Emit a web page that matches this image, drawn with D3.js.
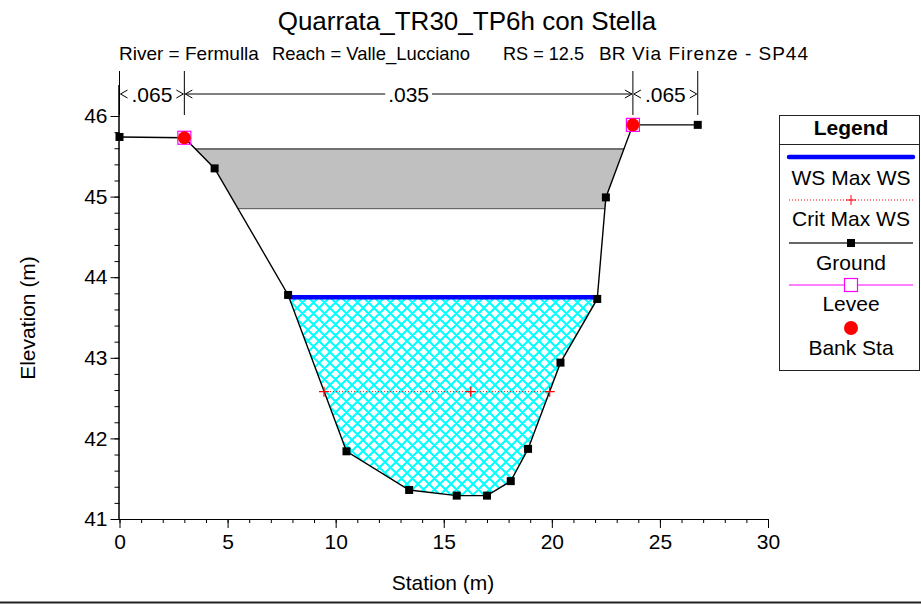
<!DOCTYPE html>
<html><head><meta charset="utf-8">
<script src="https://cdn.jsdelivr.net/npm/d3@7/dist/d3.min.js"></script>
<style>
body{margin:0;background:#fff;}
svg{display:block;font-family:"Liberation Sans",Arial,sans-serif;}
</style></head>
<body>
<svg id="chart" width="921" height="604"></svg>
<script>
// ---------- data ----------
const groundSta  = [0, 3.0, 4.4, 7.8, 10.5, 13.4, 15.6, 17.0, 18.1, 18.9, 20.4, 22.1, 22.5, 23.75, 26.75];
const groundElev = [45.74, 45.73, 45.35, 43.78, 41.84, 41.36, 41.29, 41.29, 41.47, 41.87, 42.94, 43.73, 44.99, 45.89, 45.89];
const wsElev = 43.75;
const wsSta = [7.83, 22.11];
const critElev = 42.58;
const critSta = [9.46, 16.25, 19.9];
const deckHighChord = 45.59;
const deckLowChord = 44.85;
const bankSta = [3.0, 23.75];
const bankElev = [45.73, 45.89];
const leveeSta = [3.0, 23.75];
const leveeElev = [45.73, 45.89];
const nBreaks = [0, 3.0, 23.75, 26.75];
const nValues = [".065", ".035", ".065"];
const xTicksMajor = [0, 5, 10, 15, 20, 25, 30];
const yTicksMajor = [41, 42, 43, 44, 45, 46];
const legendItems = ["WS Max WS", "Crit Max WS", "Ground", "Levee", "Bank Sta"];
const titleText = "Quarrata_TR30_TP6h con Stella";
const subtitleParts = ["River = Fermulla", "Reach = Valle_Lucciano", "RS = 12.5", "BR", "Via Firenze - SP44"];

// ---------- layout ----------
const FS = 21;
const svg = d3.select("#chart");
const x = d3.scaleLinear().domain([0, 30]).range([119.5, 768]);
const y = d3.scaleLinear().domain([41, 46]).range([519, 116]);
const ground = groundSta.map((s, i) => [s, groundElev[i]]);

const defs = svg.append("defs");
const pat = defs.append("pattern").attr("id", "hatch").attr("patternUnits", "userSpaceOnUse")
  .attr("width", 11).attr("height", 11);
pat.append("path").attr("d", "M0,0L11,11M11,0L0,11M-1,10L1,12M10,-1L12,1M-1,1L1,-1M10,12L12,10")
  .attr("stroke", "#00FFFF").attr("stroke-width", 2).attr("fill", "none");

// region above ground (clip)
const aboveGround = [[x(0) - 50, 0]].concat(ground.map(d => [x(d[0]), y(d[1])]))
  .concat([[x(d3.max(groundSta)) + 50, y(groundElev[groundElev.length - 1])], [x(d3.max(groundSta)) + 50, 0]]);
defs.append("clipPath").attr("id", "above").append("path")
  .attr("d", "M" + aboveGround.map(p => p.join(",")).join("L") + "Z");

// title
svg.append("text").attr("x", 467).attr("y", 30).attr("text-anchor", "middle")
  .attr("font-size", 26).attr("fill", "#000").text(titleText);
const subX = [119, 272, 503, 599, 632];
subtitleParts.forEach((t, i) => {
  const tx = svg.append("text").attr("x", subX[i]).attr("y", 60).attr("font-size", 19).attr("fill", "#000").text(t);
  if (i === 1) tx.attr("textLength", 198).attr("lengthAdjust", "spacingAndGlyphs");
  if (i === 2) tx.attr("textLength", 81).attr("lengthAdjust", "spacingAndGlyphs");
  if (i === 4) tx.attr("textLength", 176).attr("lengthAdjust", "spacing");
});

// deck (bridge)
svg.append("rect").attr("clip-path", "url(#above)")
  .attr("x", x(0)).attr("width", x(30) - x(0))
  .attr("y", y(deckHighChord)).attr("height", y(deckLowChord) - y(deckHighChord))
  .attr("fill", "#C0C0C0");
const deckG = svg.append("g").attr("clip-path", "url(#above)");
deckG.append("line").attr("x1", x(0)).attr("x2", x(30)).attr("y1", y(deckHighChord)).attr("y2", y(deckHighChord))
  .attr("stroke", "#707070").attr("stroke-width", 2);
deckG.append("line").attr("x1", x(0)).attr("x2", x(30)).attr("y1", y(deckLowChord)).attr("y2", y(deckLowChord))
  .attr("stroke", "#505050").attr("stroke-width", 1);

// water
svg.append("rect").attr("clip-path", "url(#above)")
  .attr("x", x(wsSta[0]) - 5).attr("width", x(wsSta[1]) - x(wsSta[0]) + 10)
  .attr("y", y(wsElev)).attr("height", y(41) - y(wsElev))
  .attr("fill", "url(#hatch)").attr("shape-rendering", "crispEdges");

// axes
const gx = svg.append("g").attr("transform", `translate(0,${y(41)})`);
gx.call(d3.axisBottom(x).tickValues(d3.range(0, 31, 1)).tickSize(4).tickFormat(""));
gx.append("g").call(d3.axisBottom(x).tickValues(xTicksMajor).tickSize(9).tickPadding(6).tickFormat(d3.format("d")));
gx.selectAll(".domain").attr("d", `M${x(0)},0.5H${x(30)}`).attr("stroke", "#000");
gx.selectAll("text").attr("font-size", FS).attr("font-family", "Liberation Sans, Arial, sans-serif").attr("fill", "#000");
gx.selectAll("line").attr("stroke", "#000");

const gy = svg.append("g").attr("transform", `translate(${x(0)},0)`);
gy.call(d3.axisLeft(y).tickValues(d3.range(41, 46.01, 0.2)).tickSize(5).tickFormat(""));
gy.append("g").call(d3.axisLeft(y).tickValues(yTicksMajor).tickSize(9).tickPadding(3).tickFormat(d3.format("d")));
gy.selectAll(".domain").attr("d", `M-0.5,${y(41)}V85`).attr("stroke", "#000");
gy.selectAll("text").attr("font-size", FS).attr("font-family", "Liberation Sans, Arial, sans-serif").attr("fill", "#000");
gy.selectAll("line").attr("stroke", "#000");

svg.append("text").attr("x", 443).attr("y", 590).attr("text-anchor", "middle")
  .attr("font-size", FS).text("Station (m)");
svg.append("text").attr("transform", "translate(35,318) rotate(-90)").attr("text-anchor", "middle")
  .attr("font-size", FS).text("Elevation (m)");

// Manning n brackets
const by = 94;
nBreaks.forEach(s => {
  svg.append("line").attr("x1", x(s)).attr("x2", x(s)).attr("y1", 71).attr("y2", 115)
    .attr("stroke", "#000").attr("stroke-width", 1);
});
nValues.forEach((v, i) => {
  const x0 = x(nBreaks[i]), x1 = x(nBreaks[i + 1]), mid = (x0 + x1) / 2;
  const t = svg.append("text").attr("x", mid).attr("y", by + 7.5).attr("text-anchor", "middle")
    .attr("font-size", FS).text(v);
  const w = t.node().getComputedTextLength();
  const a = x0 + 1, b = x1 - 1;
  const gap0 = mid - w / 2 - 3, gap1 = mid + w / 2 + 3;
  if (gap0 > a + 8) svg.append("line").attr("x1", a).attr("x2", gap0).attr("y1", by).attr("y2", by).attr("stroke", "#000");
  if (b - 8 > gap1) svg.append("line").attr("x1", gap1).attr("x2", b).attr("y1", by).attr("y2", by).attr("stroke", "#000");
  svg.append("path").attr("d", `M${a + 7},${by - 4}L${a},${by}L${a + 7},${by + 4}`).attr("fill", "none").attr("stroke", "#000");
  svg.append("path").attr("d", `M${b - 7},${by - 4}L${b},${by}L${b - 7},${by + 4}`).attr("fill", "none").attr("stroke", "#000");
});

// ground line
const line = d3.line().x(d => x(d[0])).y(d => y(d[1]));
svg.append("path").datum(ground).attr("d", line).attr("fill", "none").attr("stroke", "#000").attr("stroke-width", 1.4);

// WS line
svg.append("line").attr("x1", x(wsSta[0])).attr("x2", x(wsSta[1])).attr("y1", y(wsElev)).attr("y2", y(wsElev))
  .attr("stroke", "#0000FF").attr("stroke-width", 4.5);

// critical WS
svg.append("line").attr("x1", x(critSta[0])).attr("x2", x(critSta[critSta.length - 1]))
  .attr("y1", y(critElev)).attr("y2", y(critElev))
  .attr("stroke", "#FF0000").attr("stroke-width", 1).attr("stroke-dasharray", "1,2");
critSta.forEach(s => {
  svg.append("path").attr("d", `M${x(s) - 5},${y(critElev)}H${x(s) + 5}M${x(s)},${y(critElev) - 5}V${y(critElev) + 5}`)
    .attr("stroke", "#FF0000").attr("stroke-width", 1.2);
});

// ground markers
svg.selectAll(".gm").data(ground).join("rect").attr("class", "gm")
  .attr("x", d => x(d[0]) - 4).attr("y", d => y(d[1]) - 4).attr("width", 8).attr("height", 8).attr("fill", "#000");

// levee
leveeSta.forEach((s, i) => {
  svg.append("rect").attr("x", x(s) - 6.5).attr("y", y(leveeElev[i]) - 6.5).attr("width", 13).attr("height", 13)
    .attr("fill", "none").attr("stroke", "#FF00FF").attr("stroke-width", 1.2);
});
// bank stations
bankSta.forEach((s, i) => {
  svg.append("circle").attr("cx", x(s)).attr("cy", y(bankElev[i])).attr("r", 6.5).attr("fill", "#FF0000");
});

// legend
const L = {x0: 779.5, x1: 919.5, y0: 115.5, y1: 370.5, div: 144.5};
const lg = svg.append("g");
lg.append("rect").attr("x", L.x0).attr("y", L.y0).attr("width", L.x1 - L.x0).attr("height", L.y1 - L.y0)
  .attr("fill", "#fff").attr("stroke", "#222").attr("stroke-width", 1);
lg.append("line").attr("x1", L.x0).attr("x2", L.x1).attr("y1", L.div).attr("y2", L.div).attr("stroke", "#222");
const lcx = 851;
lg.append("text").attr("x", lcx).attr("y", 135).attr("text-anchor", "middle").attr("font-size", FS)
  .attr("font-weight", "bold").text("Legend");
const symY = [157, 200, 243, 285, 328];
const txtY = [185, 226, 270, 311, 355];
legendItems.forEach((t, i) => {
  lg.append("text").attr("x", lcx).attr("y", txtY[i]).attr("text-anchor", "middle").attr("font-size", FS).text(t);
});
lg.append("line").attr("x1", 789).attr("x2", 913).attr("y1", symY[0]).attr("y2", symY[0])
  .attr("stroke", "#0000FF").attr("stroke-width", 4.5).attr("stroke-linecap", "round");
lg.append("line").attr("x1", 789).attr("x2", 913).attr("y1", symY[1]).attr("y2", symY[1])
  .attr("stroke", "#FF0000").attr("stroke-dasharray", "1,2");
lg.append("path").attr("d", `M${lcx - 5},${symY[1]}H${lcx + 5}M${lcx},${symY[1] - 5}V${symY[1] + 5}`).attr("stroke", "#FF0000");
lg.append("line").attr("x1", 789).attr("x2", 913).attr("y1", symY[2]).attr("y2", symY[2]).attr("stroke", "#333").attr("stroke-width", 1.4);
lg.append("rect").attr("x", lcx - 4).attr("y", symY[2] - 4).attr("width", 8).attr("height", 8).attr("fill", "#000");
lg.append("line").attr("x1", 789).attr("x2", 913).attr("y1", symY[3]).attr("y2", symY[3]).attr("stroke", "#FF00FF");
lg.append("rect").attr("x", lcx - 6.5).attr("y", symY[3] - 6.5).attr("width", 13).attr("height", 13)
  .attr("fill", "#fff").attr("stroke", "#FF00FF").attr("stroke-width", 1.2);
lg.append("circle").attr("cx", lcx).attr("cy", symY[4]).attr("r", 7).attr("fill", "#FF0000");

// bottom border
svg.append("line").attr("x1", 0).attr("x2", 921).attr("y1", 602.5).attr("y2", 602.5).attr("stroke", "#222").attr("stroke-width", 2);
</script>
</body></html>
